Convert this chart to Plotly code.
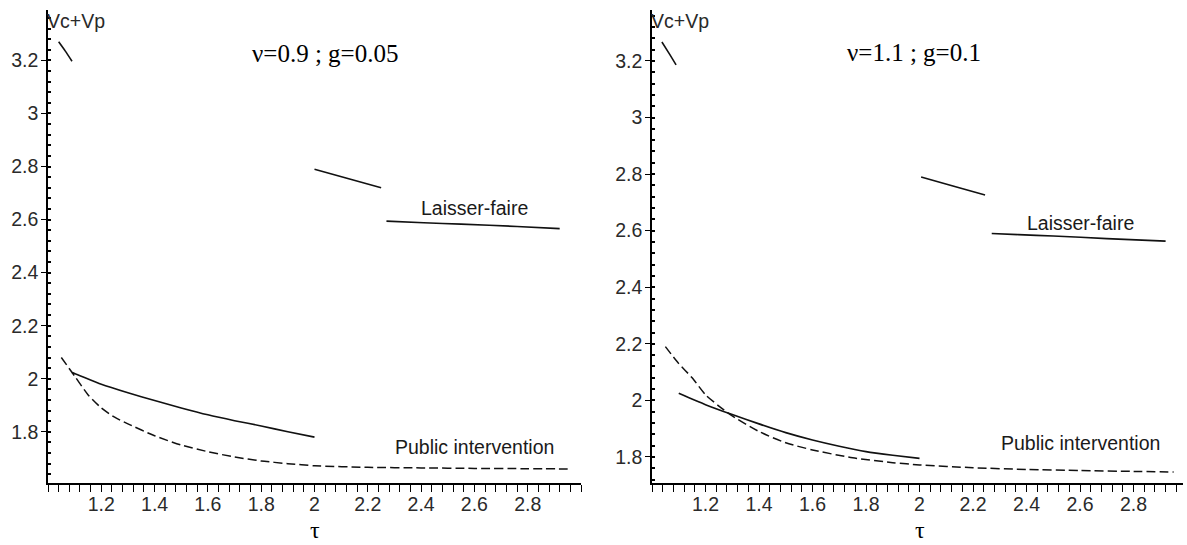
import plotly.graph_objects as go

# ---------------- data ----------------
# Left panel: nu=0.9 ; g=0.05
L_top_tau = [1.04, 1.065, 1.09]
L_top_v = [3.27, 3.235, 3.197]
L_mid_tau = [2.0, 2.125, 2.25]
L_mid_v = [2.79, 2.755, 2.72]
L_lf_tau = [2.27, 2.41, 2.55, 2.76, 2.92]
L_lf_v = [2.594, 2.588, 2.583, 2.574, 2.566]
L_pi_solid_tau = [1.09, 1.1, 1.2, 1.3, 1.4, 1.5, 1.6, 1.7, 1.8, 1.9, 2.0]
L_pi_solid_v = [2.023, 2.02, 1.979, 1.947, 1.918, 1.89, 1.864, 1.842, 1.822, 1.80, 1.78]
L_pi_dash_tau = [1.05, 1.1, 1.15, 1.2, 1.25, 1.3, 1.4, 1.5, 1.6, 1.7, 1.8, 1.9, 2.0, 2.2, 2.4, 2.6, 2.8, 2.95]
L_pi_dash_v = [2.08, 2.01, 1.94, 1.89, 1.855, 1.83, 1.785, 1.75, 1.725, 1.705, 1.69, 1.68, 1.672, 1.666, 1.664, 1.662, 1.661, 1.66]

# Right panel: nu=1.1 ; g=0.1
R_top_tau = [1.037, 1.065, 1.09]
R_top_v = [3.267, 3.225, 3.186]
R_mid_tau = [2.006, 2.125, 2.245]
R_mid_v = [2.79, 2.758, 2.726]
R_lf_tau = [2.27, 2.37, 2.5, 2.7, 2.92]
R_lf_v = [2.59, 2.586, 2.581, 2.572, 2.563]
R_pi_solid_tau = [1.1, 1.2, 1.3, 1.4, 1.5, 1.6, 1.7, 1.8, 1.9, 2.0]
R_pi_solid_v = [2.025, 1.985, 1.95, 1.917, 1.886, 1.86, 1.838, 1.819, 1.806, 1.795]
R_pi_dash_tau = [1.05, 1.1, 1.15, 1.2, 1.25, 1.3, 1.4, 1.5, 1.6, 1.75, 1.9, 2.0, 2.2, 2.4, 2.6, 2.8, 2.95]
R_pi_dash_v = [2.19, 2.13, 2.08, 2.02, 1.98, 1.945, 1.89, 1.85, 1.825, 1.797, 1.78, 1.772, 1.762, 1.756, 1.752, 1.749, 1.747]

x_tickvals = [1.2, 1.4, 1.6, 1.8, 2.0, 2.2, 2.4, 2.6, 2.8]
x_ticktext = ["1.2", "1.4", "1.6", "1.8", "2", "2.2", "2.4", "2.6", "2.8"]
y_tickvals = [1.8, 2.0, 2.2, 2.4, 2.6, 2.8, 3.0, 3.2]
y_ticktext = ["1.8", "2", "2.2", "2.4", "2.6", "2.8", "3", "3.2"]

titles = ["\u03bd=0.9 ; g=0.05", "\u03bd=1.1 ; g=0.1"]

# ---------------- figure ----------------
W, H = 1187, 545
SANS = "Liberation Sans, Arial, sans-serif"
TICKFONT = dict(family=SANS, size=19.5, color="#2a2a2a")
LABFONT = dict(family=SANS, size=19.5, color="#1a1a1a")
SERIF = dict(family="Liberation Serif, Times New Roman, serif", size=25, color="#000")

fig = go.Figure()

def add_solid(x, y, xa, ya):
    fig.add_trace(go.Scatter(x=x, y=y, mode="lines", xaxis=xa, yaxis=ya, line_shape="spline",
                             line=dict(color="#111", width=1.6, smoothing=0.6), showlegend=False, hoverinfo="skip"))

def add_dash(x, y, xa, ya):
    fig.add_trace(go.Scatter(x=x, y=y, mode="lines", xaxis=xa, yaxis=ya, line_shape="spline",
                             line=dict(color="#111", width=1.5, dash="9px,4px", smoothing=0.6),
                             showlegend=False, hoverinfo="skip"))

add_solid(L_top_tau, L_top_v, "x", "y")
add_solid(L_mid_tau, L_mid_v, "x", "y")
add_solid(L_lf_tau, L_lf_v, "x", "y")
add_solid(L_pi_solid_tau, L_pi_solid_v, "x", "y")
add_dash(L_pi_dash_tau, L_pi_dash_v, "x", "y")

add_solid(R_top_tau, R_top_v, "x2", "y2")
add_solid(R_mid_tau, R_mid_v, "x2", "y2")
add_solid(R_lf_tau, R_lf_v, "x2", "y2")
add_solid(R_pi_solid_tau, R_pi_solid_v, "x2", "y2")
add_dash(R_pi_dash_tau, R_pi_dash_v, "x2", "y2")

ydom = [1 - 483 / H, 1 - 10 / H]

def xaxis(dom, rng, anchor):
    return dict(domain=dom, range=rng, anchor=anchor, showgrid=False, zeroline=False,
                showline=True, linecolor="#000", linewidth=1.5,
                tickmode="array", tickvals=x_tickvals, ticktext=x_ticktext,
                ticks="outside", ticklen=7, tickwidth=1.3, tickcolor="#000",
                tickfont=TICKFONT, ticklabelstandoff=-4,
                minor=dict(ticks="outside", ticklen=7, tickwidth=1.3, tickcolor="#000", dtick=0.04, tick0=1.0),
                fixedrange=True)

def yaxis(rng, anchor):
    return dict(domain=ydom, range=rng, anchor=anchor, showgrid=False, zeroline=False,
                showline=True, linecolor="#000", linewidth=1.5,
                tickmode="array", tickvals=y_tickvals, ticktext=y_ticktext,
                ticks="outside", ticklen=5, tickwidth=1.3, tickcolor="#000",
                tickfont=TICKFONT, ticklabelstandoff=-1,
                minor=dict(ticks="inside", ticklen=3, tickwidth=1.5, tickcolor="#000", dtick=0.04, tick0=1.6),
                fixedrange=True)

fig.update_layout(
    width=W, height=H,
    margin=dict(l=0, r=0, t=0, b=0),
    paper_bgcolor="white", plot_bgcolor="white",
    xaxis=xaxis([48 / W, 581 / W], [1.0, 3.0], "y"),
    yaxis=yaxis([1.607, 3.39], "x"),
    xaxis2=xaxis([652 / W, 1183 / W], [1.0, 2.985], "y2"),
    yaxis2=yaxis([1.708, 3.38], "x2"),
)

ann = []
for xr, yr, title, tx, ty, lf_y, pi_y in [
    ("x", "y", titles[0], 2.04, 3.225, 2.645, 1.743),
    ("x2", "y2", titles[1], 1.98, 3.23, 2.628, 1.85),
]:
    ann.append(dict(xref=xr, yref=yr, x=tx, y=ty, text=title, showarrow=False, font=SERIF,
                    xanchor="center", yanchor="middle"))
    ann.append(dict(xref=xr, yref=yr, x=2.6, y=lf_y, text="Laisser-faire", showarrow=False, font=LABFONT,
                    xanchor="center", yanchor="middle"))
    ann.append(dict(xref=xr, yref=yr, x=2.6, y=pi_y, text="Public intervention", showarrow=False, font=LABFONT,
                    xanchor="center", yanchor="middle"))
    ann.append(dict(xref=xr, yref="paper", x=1.0, y=1 - 21 / H, text="Vc+Vp", showarrow=False, font=TICKFONT,
                    xanchor="left", yanchor="middle", xshift=-3))
    ann.append(dict(xref=xr, yref="paper", x=2.0, y=1 - 530 / H, text="\u03c4", showarrow=False,
                    font=dict(family="Liberation Serif, Times New Roman, serif", size=24, color="#000"),
                    xanchor="center", yanchor="middle"))
fig.update_layout(annotations=ann)

fig.write_html("out.html")
